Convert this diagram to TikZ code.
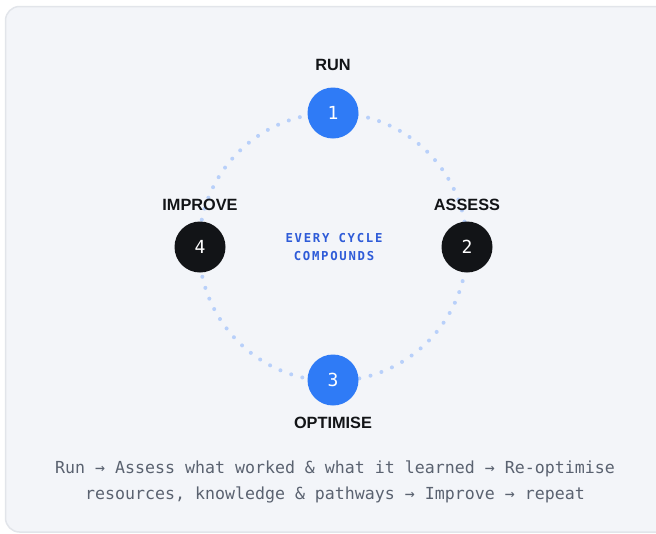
\documentclass[tikz,border=0pt]{standalone}
\usepackage{fontspec}
\setmainfont{Liberation Sans}
\newfontfamily\monofont{DejaVu Sans Mono}
\newfontfamily\capsmono[LetterSpace=14]{DejaVu Sans Mono}
\usetikzlibrary{positioning}
\definecolor{panelbg}{HTML}{F3F5F9}
\definecolor{panelrule}{HTML}{E2E5EA}
\definecolor{ringblue}{HTML}{B8D0FA}
\definecolor{stepblue}{HTML}{2F7BF6}
\definecolor{stepdark}{HTML}{121417}
\definecolor{notegray}{HTML}{5A6270}
\definecolor{capblue}{HTML}{2E5BD8}

\begin{document}
\begin{tikzpicture}[x=1pt,y=-1pt,node distance=10pt,
  stage/.style={circle,minimum size=51pt,inner sep=0pt,
    font=\monofont\fontsize{18}{18}\selectfont,text=white},
  phase/.style={inner sep=0pt,font=\bfseries\fontsize{16.3}{16.3}\selectfont,
    text=stepdark}]
 \useasboundingbox (0,0) rectangle (656,533);
 \draw[panelrule,fill=panelbg,line width=1.5pt,rounded corners=14pt]
   (5.5,6.5) rectangle (680,532);
 % dotted ring behind the stages
 \draw[ringblue,line width=4pt,line cap=round,dash pattern=on 0pt off 11.5pt]
   (333,247) circle[radius=134];
 \node[stage,fill=stepblue] (run) at (333,113) {1};
 \node[stage,fill=stepdark] (assess) at (467,247) {2};
 \node[stage,fill=stepblue] (opt) at (333,380) {3};
 \node[stage,fill=stepdark] (imp) at (200,247) {4};
 \node[phase,above=16pt of run] (runlbl) {RUN};
 \node[phase,above=10pt of assess] (assesslbl) {ASSESS};
 \node[phase,below=11pt of opt] (optlbl) {OPTIMISE};
 \node[phase,above=10pt of imp] (implbl) {IMPROVE};
 \node[align=center,text=capblue,font=\capsmono\bfseries\fontsize{12.3}{18}\selectfont]
   (core) at (334,247) {EVERY CYCLE\\COMPOUNDS};
 \node[align=center,text=notegray,font=\monofont\fontsize{16.6}{26}\selectfont]
   (note) at (335,482) {Run → Assess what worked \& what it learned → Re-optimise\\
   resources, knowledge \& pathways → Improve → repeat};
\end{tikzpicture}
\end{document}
